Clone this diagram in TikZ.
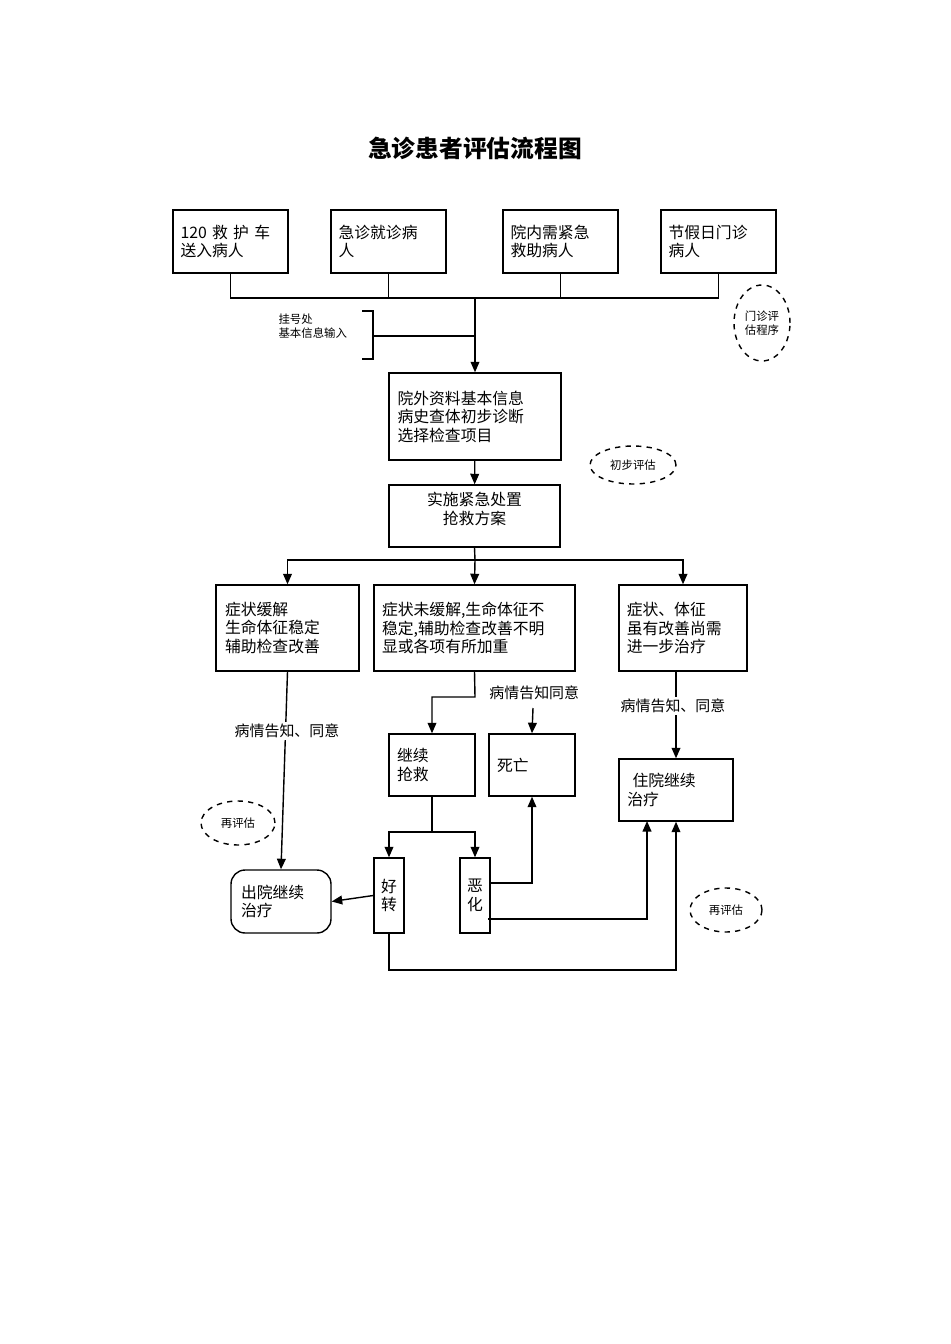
\documentclass[tikz,border=0pt]{standalone}
\usepackage{fontspec}
\setmainfont{Liberation Serif}
\newfontfamily\cjk{Noto Sans CJK SC}
\usetikzlibrary{arrows.meta,shapes.geometric}
\tikzset{
  box/.style={draw, thick, align=left, inner sep=3pt, font=\cjk\fontsize{9}{10.5}\selectfont},
  eval/.style={draw, dashed, ellipse, font=\cjk\fontsize{6.5}{8}\selectfont, inner sep=0pt},
  lab/.style={fill=white, inner sep=1pt, font=\cjk\fontsize{8.5}{10}\selectfont},
  arr/.style={-{Triangle[length=6pt,width=5pt]}},
}
\begin{document}
\begin{tikzpicture}[x=0.02cm, y=-0.02cm, thick]
    \useasboundingbox (0,0) rectangle (950,1344);
    % Titolo
    \node (title) at (475,148) {\cjk\bfseries\fontsize{13.5}{15}\selectfont 急诊患者评估流程图};

    % Ingressi
    \node[box, minimum width=2.3cm, minimum height=1.26cm, text width=2cm] (b1) at (230.5,241.5) {120 救 护 车\\送入病人\\[-0.3em]};
    \node[box, minimum width=2.3cm, minimum height=1.26cm, text width=2cm] (b2) at (388.5,241.5) {急诊就诊病\\人\\[-0.3em]};
    \node[box, minimum width=2.3cm, minimum height=1.26cm, text width=2cm] (b3) at (560.5,241.5) {院内需紧急\\救助病人\\[-0.3em]};
    \node[box, minimum width=2.3cm, minimum height=1.26cm, text width=2cm] (b4) at (718.5,241.5) {节假日门诊\\病人\\[-0.3em]};
    \coordinate (bus) at (475,298);
    \coordinate (reg) at (475,336);
    \draw (b1.south) -- (b1.south |- bus) -- (b4.south |- bus) -- (b4.south);
    \draw (b2.south) -- (b2.south |- bus);
    \draw (b3.south) -- (b3.south |- bus);

    % Registrazione
    \node[font=\cjk\fontsize{6.5}{8}\selectfont, align=left, anchor=west] (regtxt) at (272,326) {挂号处\\基本信息输入};
    \draw (362,311) -- (373,311) -- (373,359) -- (362,359);
    \draw (373,336) -- (reg);
    \node[eval, minimum width=1.12cm, minimum height=1.52cm, align=center] (e1) at (762,323) {门诊评\\估程序};

    \node[box, minimum width=3.44cm, minimum height=1.74cm, text width=3.1cm] (info) at (475,416.5) {院外资料基本信息\\病史查体初步诊断\\选择检查项目\\[-0.2em]};
    \draw[arr] (bus) -- (info.north);
    \node[eval, minimum width=1.72cm, minimum height=0.76cm] (e2) at (633,465) {初步评估};

    \node[box, minimum width=3.42cm, minimum height=1.24cm, align=center] (plan) at (474.5,516) {实施紧急处置\\抢救方案\\[-0.2em]};
    \draw[arr] (info) -- (plan);

    % Tre rami
    \node[box, minimum width=2.86cm, minimum height=1.72cm, text width=2.5cm] (L) at (287.5,628) {症状缓解\\生命体征稳定\\辅助检查改善\\[-0.3em]};
    \node[box, minimum width=4.02cm, minimum height=1.72cm, text width=3.7cm] (M) at (474.5,628) {症状未缓解,生命体征不\\稳定,辅助检查改善不明\\显或各项有所加重\\[-0.3em]};
    \node[box, minimum width=2.56cm, minimum height=1.72cm, text width=2.25cm] (R) at (683,628) {症状、体征\\虽有改善尚需\\进一步治疗\\[-0.3em]};
    \coordinate (split) at (475,560);
    \draw (plan.south) -- (split);
    \draw[arr] (split) -| (L.north);
    \draw[arr] (split) -| (R.north);
    \draw[arr] (split) -- (M.north);

    % Ramo centrale
    \node[box, minimum width=1.72cm, minimum height=1.24cm, text width=1.4cm] (jx) at (432,765) {继续\\抢救\\[-0.3em]};
    \node[box, minimum width=1.72cm, minimum height=1.24cm, text width=1.4cm] (sw) at (532,765) {死亡\\[1em]};
    \draw[arr] (M.south) -- (475,697) -| (jx.north);
    \node[lab, anchor=west] (gz1) at (487,693) {病情告知同意};
    \draw[arr] (533,708) -- (sw.north);

    \node[box, minimum width=0.6cm, minimum height=1.5cm, inner sep=1pt, align=center] (hz) at (389,895.5) {好\\转};
    \node[box, minimum width=0.6cm, minimum height=1.5cm, inner sep=1pt, align=center] (eh) at (475,895.5) {恶\\化};
    \coordinate (fork) at (432,832);
    \draw (jx.south) -- (fork);
    \draw[arr] (fork) -| (hz.north);
    \draw[arr] (fork) -| (eh.north);

    % Esiti
    \node[box, rounded corners=8pt, minimum width=2cm, minimum height=1.26cm, text width=1.6cm] (cy) at (281,901.5) {出院继续\\治疗};
    \node[box, minimum width=2.28cm, minimum height=1.24cm, text width=1.95cm] (zy) at (676,790) {\ 住院继续\\治疗\\[-0.2em]};
    \draw[arr] (L.south) -- (cy.north);
    \node[lab] (gz2) at (287,731) {病情告知、同意};
    \draw[arr] (R.south -| zy.north) -- (zy.north);
    \node[lab] (gz3) at (673,706) {病情告知、同意};
    \draw[arr] (hz.west) -- (cy.east);
    \draw[arr] (eh.east |- 0,883) -| (sw.south);
    \draw[arr] (488,919) -| (647,821);
    \draw[arr] (hz.south) |- (676,970) -- (zy.south);

    \node[eval, minimum width=1.48cm, minimum height=0.88cm] (e3) at (238,823) {再评估};
    \node[eval, minimum width=1.44cm, minimum height=0.88cm] (e4) at (726,910) {再评估};
\end{tikzpicture}
\end{document}
